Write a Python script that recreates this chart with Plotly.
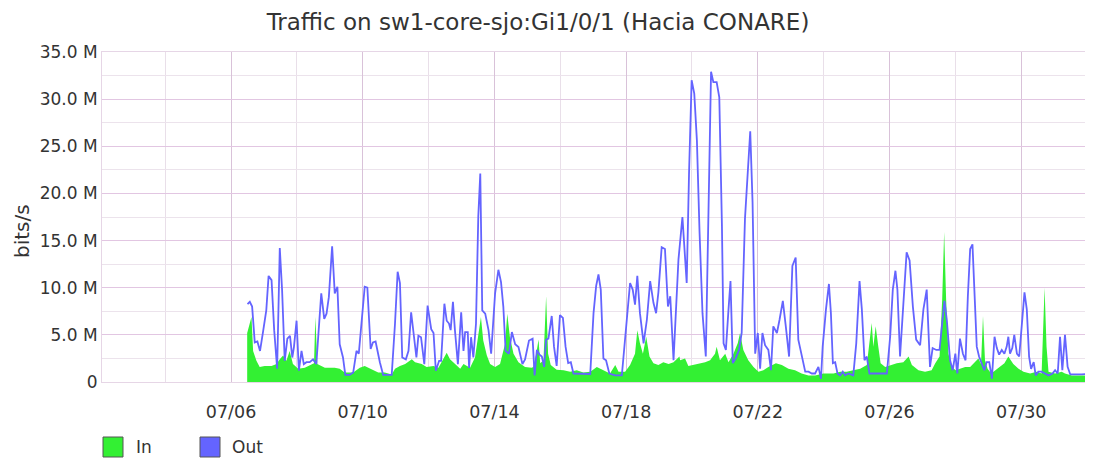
import numpy as np
import pandas as pd
import plotly.graph_objects as go

MONTH_START = "2014-07-01"

# time as fractional day of month (July), traffic in Mbit/s
OUT_DAY = [6.50, 6.57, 6.64, 6.72, 6.80, 6.88, 6.97, 7.07, 7.14, 7.23, 7.31, 7.40, 7.48, 7.55, 7.63,
           7.71, 7.79, 7.86, 7.91, 7.99, 8.06, 8.14, 8.21, 8.29, 8.39, 8.49, 8.59, 8.67, 8.74, 8.83,
           8.90, 8.97, 9.07, 9.15, 9.23, 9.30, 9.40, 9.47, 9.60, 9.71, 9.81, 9.88, 9.98, 10.06, 10.14,
           10.24, 10.31, 10.39, 10.52, 10.62, 10.77, 10.88, 10.98, 11.06, 11.13, 11.20, 11.31, 11.39,
           11.47, 11.55, 11.63, 11.69, 11.77, 11.87, 11.97, 12.08, 12.15, 12.22, 12.32, 12.38, 12.48,
           12.55, 12.62, 12.67, 12.74, 12.80, 12.89, 12.99, 13.06, 13.11, 13.19, 13.23, 13.29, 13.36,
           13.44, 13.51, 13.57, 13.63, 13.72, 13.82, 13.90, 14.02, 14.12, 14.20, 14.27, 14.34, 14.44,
           14.53, 14.63, 14.73, 14.85, 14.93, 15.05, 15.16, 15.22, 15.29, 15.37, 15.44, 15.51, 15.57,
           15.64, 15.74, 15.81, 15.89, 15.99, 16.08, 16.16, 16.24, 16.32, 16.40, 16.55, 16.70, 16.91,
           17.01, 17.09, 17.16, 17.23, 17.31, 17.39, 17.49, 17.67, 17.87, 18.02, 18.12, 18.20, 18.27,
           18.34, 18.42, 18.53, 18.63, 18.73, 18.83, 18.91, 18.98, 19.08, 19.18, 19.27, 19.34, 19.44,
           19.54, 19.59, 19.71, 19.77, 19.84, 19.91, 19.99, 20.07, 20.15, 20.23, 20.32, 20.42, 20.50,
           20.58, 20.65, 20.75, 20.83, 20.91, 20.96, 21.03, 21.11, 21.17, 21.24, 21.33, 21.43, 21.51,
           21.61, 21.77, 21.84, 21.92, 22.00, 22.07, 22.14, 22.22, 22.32, 22.40, 22.47, 22.58, 22.66,
           22.76, 22.85, 22.95, 23.05, 23.15, 23.23, 23.34, 23.44, 23.54, 23.64, 23.74, 23.84, 23.92,
           23.97, 24.07, 24.16, 24.22, 24.28, 24.35, 24.42, 24.50, 24.58, 24.65, 24.75, 24.90, 24.99,
           25.09, 25.16, 25.24, 25.31, 25.39, 25.51, 25.71, 25.92, 26.02, 26.10, 26.18, 26.24, 26.32,
           26.42, 26.52, 26.61, 26.71, 26.81, 26.93, 27.03, 27.13, 27.23, 27.31, 27.42, 27.52, 27.59,
           27.67, 27.74, 27.84, 27.92, 28.00, 28.06, 28.14, 28.23, 28.31, 28.38, 28.45, 28.52, 28.58,
           28.65, 28.72, 28.80, 28.88, 28.95, 29.03, 29.11, 29.19, 29.26, 29.33, 29.41, 29.49, 29.56,
           29.61, 29.66, 29.73, 29.79, 29.87, 29.94, 30.02, 30.10, 30.17, 30.24, 30.30, 30.38, 30.44,
           30.52, 30.62, 30.73, 30.83, 30.95, 31.03, 31.11, 31.18, 31.25, 31.33, 31.41, 31.49, 31.64,
           31.84, 32.09]
OUT_MBPS = [8.25, 8.5, 8.0, 4.2, 4.3, 3.3, 5.3, 7.6, 11.25, 10.8, 5.5, 1.4, 14.2, 9.75, 2.25,
            4.6, 4.9, 2.6, 3.7, 6.5, 1.2, 3.3, 1.9, 2.1, 2.1, 2.4, 1.9, 6.2, 9.4, 6.7,
            7.25, 9.0, 14.4, 9.4, 10.1, 4.0, 2.6, 0.75, 0.75, 1.0, 3.3, 3.0, 6.7, 10.1, 10.0,
            3.5, 4.2, 4.3, 2.1, 0.75, 0.75, 0.75, 6.2, 11.7, 10.5, 2.6, 2.4, 3.3,
            7.4, 5.3, 2.6, 4.9, 4.75, 1.9, 8.1, 5.6, 5.2, 1.2, 2.25, 2.25, 8.3,
            6.5, 6.2, 5.5, 8.5, 5.5, 1.9, 7.4, 3.3, 5.3, 5.3, 1.5, 4.75, 2.6,
            6.2, 17.6, 22.1, 7.6, 7.25, 5.5, 3.0, 9.4, 11.9, 10.6, 8.0, 3.3, 3.0,
            5.3, 4.0, 3.7, 1.9, 2.4, 4.4, 4.6, 0.7, 3.4, 2.9, 2.7, 1.6, 4.5,
            4.6, 7.0, 3.75, 1.7, 7.1, 6.8, 3.75, 2.0, 2.1, 0.9, 0.9, 0.85, 0.85,
            7.3, 10.2, 11.4, 9.8, 2.5, 2.3, 0.9, 0.7, 0.7, 6.25, 10.5, 9.8, 8.2,
            11.25, 7.3, 4.1, 6.6, 10.7, 8.4, 7.3, 9.5, 14.3, 14.1, 8.0, 9.1, 2.3,
            9.5, 13.0, 17.5, 14.5, 10.5, 22.0, 32.0, 30.6, 25.6, 15.9, 7.3, 2.7, 19.5,
            32.9, 31.8, 31.8, 30.2, 16.6, 4.1, 3.4, 7.7, 10.7, 2.0, 2.5, 3.4, 5.2,
            17.3, 26.6, 19.1, 3.0, 5.2, 1.4, 5.2, 3.9, 3.4, 1.25, 5.9, 5.2, 6.6,
            8.6, 5.9, 2.7, 12.3, 13.2, 4.5, 2.5, 1.1, 1.1, 0.9, 0.9, 1.6, 0.35,
            3.75, 7.7, 10.4, 7.3, 2.0, 2.1, 0.9, 0.7, 1.1, 0.7, 0.9, 0.7, 4.1,
            10.7, 7.7, 2.3, 2.7, 0.9, 0.9, 0.9, 0.9, 4.8, 9.8, 11.8, 9.8, 2.7,
            8.75, 13.75, 12.9, 8.0, 4.5, 3.9, 7.7, 9.8, 1.6, 3.6, 3.4, 3.4, 5.9,
            8.6, 6.6, 2.3, 1.25, 3.0, 0.9, 4.6, 3.0, 2.3, 9.1, 14.1, 14.6, 8.75,
            3.75, 2.7, 2.0, 1.25, 2.1, 2.1, 0.35, 4.8, 3.6, 2.9, 3.4, 3.0, 3.75,
            4.8, 3.0, 3.6, 5.0, 3.0, 2.7, 5.9, 9.5, 7.7, 2.7, 1.4, 2.1, 0.7,
            1.1, 1.1, 0.9, 0.7, 0.9, 1.25, 0.9, 4.8, 1.25, 5.0, 1.6, 0.8, 0.8,
            0.8, 0.9]

IN_DAY = [6.49, 6.62, 6.67, 6.77, 6.87, 7.02, 7.23, 7.38, 7.48, 7.58, 7.68, 7.78, 7.88, 8.04, 8.24,
          8.44, 8.52, 8.56, 8.62, 8.85, 9.15, 9.30, 9.45, 9.71, 9.91, 10.06, 10.26, 10.47, 10.67,
          10.88, 10.98, 11.13, 11.29, 11.49, 11.59, 11.79, 11.94, 12.15, 12.30, 12.45, 12.55, 12.65,
          12.80, 12.96, 13.06, 13.26, 13.41, 13.51, 13.59, 13.66, 13.77, 13.87, 14.02, 14.17, 14.32,
          14.39, 14.47, 14.58, 14.73, 14.93, 15.13, 15.18, 15.27, 15.34, 15.39, 15.49, 15.57, 15.63,
          15.71, 15.89, 16.10, 16.30, 16.50, 16.70, 16.91, 17.11, 17.31, 17.51, 17.67, 17.77, 17.97,
          18.12, 18.27, 18.34, 18.42, 18.51, 18.61, 18.71, 18.83, 18.98, 19.13, 19.29, 19.44, 19.62,
          19.64, 19.79, 19.89, 20.04, 20.20, 20.40, 20.55, 20.70, 20.75, 20.85, 21.01, 21.11, 21.26,
          21.39, 21.46, 21.56, 21.71, 21.87, 22.02, 22.17, 22.32, 22.55, 22.73, 22.93, 23.13, 23.33,
          23.54, 23.74, 23.99, 24.09, 24.30, 24.50, 24.70, 24.90, 25.11, 25.31, 25.39, 25.46, 25.51,
          25.58, 25.66, 25.73, 25.87, 26.02, 26.22, 26.42, 26.58, 26.68, 26.88, 27.08, 27.28, 27.39,
          27.52, 27.60, 27.66, 27.72, 27.79, 27.89, 28.01, 28.14, 28.30, 28.45, 28.60, 28.70, 28.78,
          28.84, 28.90, 28.98, 29.09, 29.21, 29.36, 29.49, 29.61, 29.76, 29.92, 30.07, 30.27, 30.47,
          30.62, 30.71, 30.77, 30.83, 31.03, 31.23, 31.33, 31.54, 31.84, 32.09]
IN_MBPS = [5.2, 6.9, 3.3, 2.25, 1.6, 1.7, 1.7, 1.9, 2.4, 2.8, 2.25, 3.3, 1.9, 1.4, 1.5,
           1.9, 2.0, 6.9, 1.9, 1.5, 1.5, 1.4, 1.0, 1.0, 1.5, 1.7, 1.4, 1.0, 1.0,
           0.8, 1.4, 1.7, 1.9, 2.4, 2.1, 1.9, 1.6, 1.7, 1.5, 2.4, 3.1, 2.4,
           1.9, 1.4, 1.9, 1.5, 2.6, 4.75, 6.9, 4.4, 2.8, 1.9, 1.6, 1.9, 4.0,
           7.25, 4.75, 3.0, 2.1, 1.6, 1.5, 1.6, 3.0, 4.5, 2.0, 2.3, 9.1, 3.0,
           1.8, 1.3, 1.25, 1.1, 1.25, 1.0, 1.1, 1.6, 1.25, 0.9, 1.8, 1.1, 1.1,
           1.8, 3.0, 5.5, 4.1, 3.0, 4.8, 2.7, 2.0, 1.8, 2.1, 1.9, 2.1, 2.7,
           2.3, 2.5, 1.7, 1.8, 1.9, 2.1, 2.3, 3.0, 3.75, 2.3, 3.0, 2.1, 3.0,
           4.1, 5.2, 3.4, 2.3, 1.6, 1.1, 1.25, 1.6, 2.0, 1.8, 1.4, 1.25, 0.9,
           0.7, 0.7, 0.9, 0.9, 0.9, 1.1, 1.1, 1.25, 1.4, 1.8, 4.5, 6.25, 3.75,
           5.9, 3.75, 2.0, 1.6, 1.8, 2.0, 2.1, 2.7, 1.8, 1.25, 1.1, 1.25, 2.0,
           2.7, 8.75, 15.9, 8.75, 3.0, 1.6, 1.25, 1.4, 1.6, 1.6, 2.1, 2.5, 1.9,
           7.0, 2.3, 1.4, 0.9, 1.25, 1.6, 2.0, 2.7, 1.9, 1.4, 1.1, 0.9, 1.1,
           0.9, 10.0, 3.75, 1.1, 0.9, 1.1, 0.9, 0.7, 0.7, 0.7]

Y_TICK_M = [0, 5, 10, 15, 20, 25, 30, 35]
Y_TICK_TEXT = ["0", "5.0 M", "10.0 M", "15.0 M", "20.0 M", "25.0 M", "30.0 M", "35.0 M"]
X_RANGE_DAY = [2.08, 32.09]
TICK0_DAY = 6
TITLE = "Traffic on sw1-core-sjo:Gi1/0/1 (Hacia CONARE)"
Y_TITLE = "bits/s"
SERIES_NAMES = ["In", "Out"]

IN_COLOR = "#33f033"
OUT_COLOR = "#6464ff"
FONT = "DejaVu Sans"
TEXT_COLOR = "#333333"

base = pd.Timestamp(MONTH_START)


def to_time(days):
    return base + pd.to_timedelta(np.asarray(days, dtype=float) - 1.0, unit="D")


DAY_MS = 86400000

# the page body adds an 8px offset, so the figure is 8px smaller than the window
FIG_W, FIG_H = 1085, 454
M_L, M_R, M_T, M_B = 94, 3, 44, 80
PLOT_W = FIG_W - M_L - M_R
PLOT_H = FIG_H - M_T - M_B

fig = go.Figure()
fig.add_trace(go.Scatter(
    x=to_time(IN_DAY), y=np.asarray(IN_MBPS) * 1e6, name=SERIES_NAMES[0],
    mode="lines", line=dict(width=0, color=IN_COLOR), fill="tozeroy",
    fillcolor=IN_COLOR, showlegend=False, hoverinfo="skip"))
fig.add_trace(go.Scatter(
    x=to_time(OUT_DAY), y=np.asarray(OUT_MBPS) * 1e6, name=SERIES_NAMES[1],
    mode="lines", line=dict(width=1.8, color=OUT_COLOR), showlegend=False,
    hoverinfo="skip"))

fig.update_layout(
    width=FIG_W, height=FIG_H,
    margin=dict(l=M_L, r=M_R, t=M_T, b=M_B, autoexpand=False),
    paper_bgcolor="white", plot_bgcolor="white",
    font=dict(family=FONT, color=TEXT_COLOR, size=17),
    title=dict(text=TITLE, x=530 / FIG_W, xref="container", xanchor="center",
               y=1 - 13.5 / FIG_H, yref="container", yanchor="middle",
               font=dict(family=FONT, size=23, color=TEXT_COLOR)),
    showlegend=False,
)

fig.update_xaxes(
    type="date",
    range=list(to_time(X_RANGE_DAY)),
    tick0=to_time([TICK0_DAY])[0], dtick=4 * DAY_MS, tickformat="%m/%d",
    showgrid=True, gridcolor="#d9c2d9", gridwidth=1,
    minor=dict(dtick=2 * DAY_MS, tick0=to_time([TICK0_DAY])[0], showgrid=True,
               gridcolor="#e9dfe9", gridwidth=1),
    ticks="outside", ticklen=14, tickcolor="rgba(0,0,0,0)",
    tickfont=dict(family=FONT, size=17.5, color=TEXT_COLOR),
    showline=True, linecolor="#e6d6e6", mirror=True, zeroline=False,
)
fig.update_yaxes(
    range=[0, 35e6],
    tickvals=[v * 1e6 for v in Y_TICK_M], ticktext=Y_TICK_TEXT,
    showgrid=True, gridcolor="#e2c6e2", gridwidth=1,
    minor=dict(dtick=2.5e6, tick0=0, showgrid=True, gridcolor="#ece3ec", gridwidth=1),
    ticks="", ticklen=0,
    tickfont=dict(family=FONT, size=17, color=TEXT_COLOR),
    showline=True, linecolor="#e6d6e6", mirror=True, zeroline=False,
)


# pixel helpers relative to the plot area (window pixels, offset by the 8px body margin)
def px_x(x):
    return (x - 8 - M_L) / PLOT_W


def px_y(y):
    return (FIG_H - M_B - (y - 8)) / PLOT_H


fig.add_annotation(xref="paper", yref="paper", x=px_x(22), y=px_y(231), text=Y_TITLE,
                   textangle=-90, showarrow=False, xanchor="center", yanchor="middle",
                   font=dict(family=FONT, size=20, color=TEXT_COLOR))

legend_items = [(SERIES_NAMES[0], IN_COLOR, 103, 134), (SERIES_NAMES[1], OUT_COLOR, 200, 230)]
for name, color, bx, tx in legend_items:
    fig.add_shape(type="rect", xref="paper", yref="paper",
                  x0=px_x(bx), x1=px_x(bx + 20), y0=px_y(457), y1=px_y(437),
                  fillcolor=color, line=dict(color="#555555", width=1))
    fig.add_annotation(xref="paper", yref="paper", x=px_x(tx), y=px_y(447),
                       text=name, showarrow=False, xanchor="left", yanchor="middle",
                       font=dict(family=FONT, size=17, color=TEXT_COLOR))

fig.write_html("out.html")
